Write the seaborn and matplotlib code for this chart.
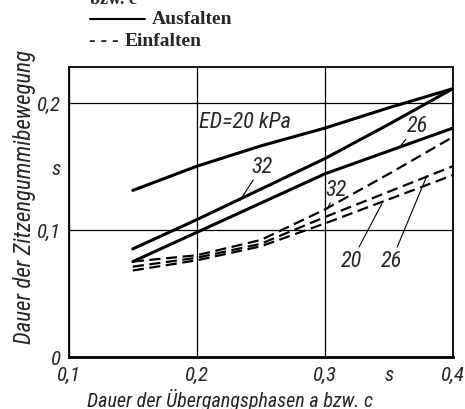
import numpy as np
import pandas as pd
import matplotlib
matplotlib.use("Agg")
import matplotlib.pyplot as plt
import seaborn as sns
from matplotlib.lines import Line2D

# data
x_vals = [0.15, 0.20, 0.25, 0.30, 0.35, 0.40]
aus_20 = [0.131, 0.150, 0.166, 0.180, 0.196, 0.211]
aus_32 = [0.085, 0.108, 0.132, 0.156, 0.183, 0.211]
aus_26 = [0.075, 0.098, 0.121, 0.144, 0.162, 0.180]
ein_32 = [0.075, 0.080, 0.092, 0.116, 0.144, 0.173]
ein_26 = [0.071, 0.078, 0.089, 0.110, 0.130, 0.150]
ein_20 = [0.068, 0.076, 0.087, 0.105, 0.124, 0.143]

x_ticks = [0.1, 0.2, 0.3, 0.4]
x_labels = ["0,1", "0,2", "0,3", "0,4"]
y_ticks = [0.0, 0.1, 0.2]
y_labels = ["0", "0,1", "0,2"]

sns.set_style("white")
plt.rcParams['font.family'] = ['Roboto Condensed', 'DejaVu Sans']
plt.rcParams['font.style'] = 'italic'

fig = plt.figure(figsize=(4.65, 4.10), dpi=100)
ax = fig.add_axes([0.148, 0.127, 0.826, 0.707])

solid = {"20": aus_20, "32": aus_32, "26": aus_26}
dashed = {"32": ein_32, "26": ein_26, "20": ein_20}

for k, v in solid.items():
    sns.lineplot(x=x_vals, y=v, ax=ax, color="black", lw=2.2)
for k, v in dashed.items():
    sns.lineplot(x=x_vals, y=v, ax=ax, color="black", lw=1.6,
                 linestyle=(0, (5, 2.5)))

ax.set_xlim(0.1, 0.4)
ax.set_ylim(0, 0.228)
ax.set_xticks(x_ticks)
ax.set_xticklabels(x_labels)
ax.set_yticks(y_ticks)
ax.set_yticklabels(y_labels)
ax.set_xticks([0.35], minor=True)
ax.set_xticklabels(["s"], minor=True)
ax.set_yticks([0.15], minor=True)
ax.set_yticklabels(["s"], minor=True)
ax.tick_params(which="both", length=0, labelsize=15, pad=6)
ax.grid(True, which="major", color="black", lw=0.9)
ax.set_xlabel("")
ax.set_ylabel("")
for sp in ax.spines.values():
    sp.set_color("black")
    sp.set_linewidth(1.3)
ax.spines["bottom"].set_linewidth(2)

# curve labels
ax.text(0.2016, 0.185, "ED=20 kPa", fontsize=16, va="center")
leader = dict(arrowstyle="-", color="black", lw=0.8, shrinkA=0, shrinkB=0)
ax.annotate("32", xy=(0.2336, 0.123), xytext=(0.251, 0.150), fontsize=16,
            ha="center", va="center", arrowprops=leader)
ax.annotate("26", xy=(0.3586, 0.1654), xytext=(0.372, 0.182), fontsize=16,
            ha="center", va="center", arrowprops=leader)
ax.annotate("32", xy=(0.302, 0.1165), xytext=(0.309, 0.132), fontsize=16,
            ha="center", va="center", arrowprops=leader)
ax.annotate("20", xy=(0.3445, 0.1205), xytext=(0.321, 0.0756), fontsize=16,
            ha="center", va="center", arrowprops=leader)
ax.annotate("26", xy=(0.3797, 0.1425), xytext=(0.352, 0.0756), fontsize=16,
            ha="center", va="center", arrowprops=leader)

fig.text(25 / 465, 213 / 410, "Dauer der Zitzengummibewegung", rotation=90,
         fontsize=16.5, ha="center", va="center")
fig.text(230 / 465, 0.024, "Dauer der Übergangsphasen a bzw. c",
         fontsize=14.5, ha="center", va="center")

# legend at the top
fig.text(90 / 465, 1.0, "bzw. c", family="Liberation Serif", style="normal",
         weight="bold", fontsize=13, va="center")
fig.add_artist(Line2D([90 / 465, 145 / 465], [1 - 20 / 410, 1 - 20 / 410],
                      color="black", lw=1.5))
fig.text(152 / 465, 1 - 20 / 410, "Ausfalten", family="Liberation Serif",
         style="normal", weight="bold", fontsize=14, va="center")
fig.text(89 / 465, 1 - 42 / 410, "- - -", family="Liberation Serif",
         style="normal", weight="bold", fontsize=14, va="center")
fig.text(125 / 465, 1 - 42 / 410, "Einfalten", family="Liberation Serif",
         style="normal", weight="bold", fontsize=14, va="center")

fig.savefig("out.png", dpi=100)
